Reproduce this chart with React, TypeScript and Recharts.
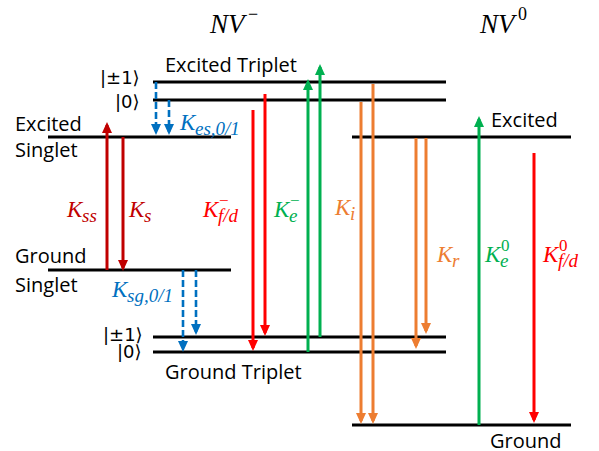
import React from 'react';
import { ComposedChart, Line, XAxis, YAxis, ReferenceDot } from 'recharts';

const W = 599;
const H = 451;

// ---- Energy levels (x = horizontal extent, E = energy in diagram units) ----
const levelNames = [
  'NV- excited triplet |±1>',
  'NV- excited triplet |0>',
  'NV- excited singlet',
  'NV- ground singlet',
  'NV- ground triplet |±1>',
  'NV- ground triplet |0>',
  'NV0 excited',
  'NV0 ground',
];
const levelEnergy = [369, 351, 314, 181, 114, 99, 314, 26];
const levelStart = [153, 153, 48, 48, 153, 153, 352, 352];
const levelEnd = [446, 446, 231, 231, 446, 446, 571, 571];

// ---- Transitions ----
const transitionNames = ['Kss', 'Ks', 'Kes1', 'Kes0', 'Ksg0', 'Ksg1', 'Kfd-0', 'Kfd-1', 'Ke-0', 'Ke-1', 'Ki0', 'Ki1', 'Kr0', 'Kr1', 'Ke0', 'Kfd0'];
const transitionX = [107, 123, 156, 169, 183, 196, 253, 265, 308, 320, 361, 373, 416, 426, 479, 534];
const transitionFrom = [181, 314, 369, 351, 181, 181, 341, 357, 99, 114, 349, 367, 313, 313, 26, 298];
const transitionTo = [326, 183, 319, 319, 102, 119, 103, 118, 369, 384, 30, 30, 105, 120, 332, 31];
const transitionKind = ['dark', 'dark', 'blue', 'blue', 'blue', 'blue', 'red', 'red', 'green', 'green', 'orange', 'orange', 'orange', 'orange', 'green', 'red'];

const COLORS: Record<string, string> = {
  dark: '#C00000',
  red: '#FF0000',
  blue: '#0070C0',
  green: '#00B050',
  orange: '#ED7D31',
};

// ---- Rate labels ----
const rateSub = ['ss', 's', 'f/d', 'e', 'i', 'r', 'e', 'f/d', 'es,0/1', 'sg,0/1'];
const rateSup = ['', '', '−', '−', '', '', '0', '0', '', ''];
const rateX = [67, 129, 203, 274, 335, 437, 485, 543, 180, 112];
const rateE = [234, 234, 234, 234, 236, 189, 189, 189, 321, 154];
const rateKind = ['dark', 'dark', 'red', 'green', 'orange', 'orange', 'green', 'red', 'blue', 'blue'];

// ---- Text labels ----
const textLabels = ['Excited Triplet', 'Excited', 'Singlet', 'Ground', 'Singlet', 'Ground Triplet', 'Excited', 'Ground', '|±1⟩', '|0⟩', '|±1⟩', '|0⟩'];
const textX = [165, 15, 15, 15, 15, 165, 491, 490, 100, 115, 103, 117];
const textE = [379, 320, 294, 188, 159, 72, 324, 3, 367, 343, 110, 93];

// ---- Titles ----
const titleSup = ['−', '0'];
const titleX = [210, 480];
const titleE = [418, 418];

const SANS = '"Open Sans", "DejaVu Sans", sans-serif';
const SERIF = '"Liberation Serif", "DejaVu Serif", serif';

const makeArrowDot = (color: string, up: boolean, id: string) => (props: any) => {
  const { cx, cy, index } = props;
  if (index !== 1 || cx == null || cy == null) return <g key={`${id}-d${index}`} />;
  const dir = up ? -1 : 1;
  const tip = cy + dir * 3;
  const base = cy - dir * 8;
  return (
    <polygon
      key={`${id}-d${index}`}
      points={`${cx - 5},${base} ${cx + 5},${base} ${cx},${tip}`}
      fill={color}
      stroke="none"
    />
  );
};

const rateShape = (i: number) => (props: any) => {
  const { cx, cy } = props;
  const color = COLORS[rateKind[i]];
  return (
    <text key={`rate-${i}`} fontFamily={SERIF} fontStyle="italic" fill={color}>
      <tspan x={cx} y={cy} fontSize={23}>K</tspan>
      <tspan x={cx + 15} y={cy + 5} fontSize={19}>{rateSub[i]}</tspan>
      {rateSup[i] ? (
        <tspan x={cx + 16} y={cy - 11} fontSize={17} fontStyle="normal">{rateSup[i]}</tspan>
      ) : null}
    </text>
  );
};

const textShape = (i: number) => (props: any) => {
  const { cx, cy } = props;
  const isKet = textLabels[i].startsWith('|');
  return (
    <text key={`txt-${i}`} x={cx} y={cy} fontFamily={isKet ? '"DejaVu Sans", sans-serif' : SANS} fontSize={isKet ? 18 : 20} fill="#000">
      {textLabels[i]}
    </text>
  );
};

const titleShape = (i: number) => (props: any) => {
  const { cx, cy } = props;
  return (
    <text key={`title-${i}`} fontFamily={SERIF} fill="#000">
      <tspan x={cx} y={cy} fontSize={27} fontStyle="italic">NV</tspan>
      <tspan x={cx + 38} y={cy - 13} fontSize={18}>{titleSup[i]}</tspan>
    </text>
  );
};

export default function App() {
  return (
    <div style={{ position: 'absolute', left: 0, top: 0, width: W, height: H, background: '#fff' }}>
      <ComposedChart width={W} height={H} margin={{ top: 0, right: 0, bottom: 0, left: 0 }}>
        <XAxis type="number" dataKey="x" domain={[0, W]} hide allowDataOverflow />
        <YAxis type="number" domain={[0, H]} hide allowDataOverflow />
        {levelNames.map((name, i) => (
          <Line
            key={name + i}
            name={name}
            data={[
              { x: levelStart[i], y: levelEnergy[i] },
              { x: levelEnd[i], y: levelEnergy[i] },
            ]}
            dataKey="y"
            type="linear"
            stroke="#000"
            strokeWidth={3}
            dot={false}
            activeDot={false}
            isAnimationActive={false}
          />
        ))}
        {transitionNames.map((name, i) => {
          const color = COLORS[transitionKind[i]];
          const up = transitionTo[i] > transitionFrom[i];
          const dashed = transitionKind[i] === 'blue';
          return (
            <Line
              key={name}
              name={name}
              data={[
                { x: transitionX[i], y: transitionFrom[i] },
                { x: transitionX[i], y: transitionTo[i] },
              ]}
              dataKey="y"
              type="linear"
              stroke={color}
              strokeWidth={dashed ? 2.6 : 3}
              strokeDasharray={dashed ? '7 3' : undefined}
              dot={makeArrowDot(color, up, name)}
              activeDot={false}
              isAnimationActive={false}
            />
          );
        })}
        {rateSub.map((s, i) => (
          <ReferenceDot key={`r${i}`} x={rateX[i]} y={rateE[i]} r={0} shape={rateShape(i)} />
        ))}
        {textLabels.map((t, i) => (
          <ReferenceDot key={`t${i}`} x={textX[i]} y={textE[i]} r={0} shape={textShape(i)} />
        ))}
        {titleSup.map((t, i) => (
          <ReferenceDot key={`h${i}`} x={titleX[i]} y={titleE[i]} r={0} shape={titleShape(i)} />
        ))}
      </ComposedChart>
    </div>
  );
}
